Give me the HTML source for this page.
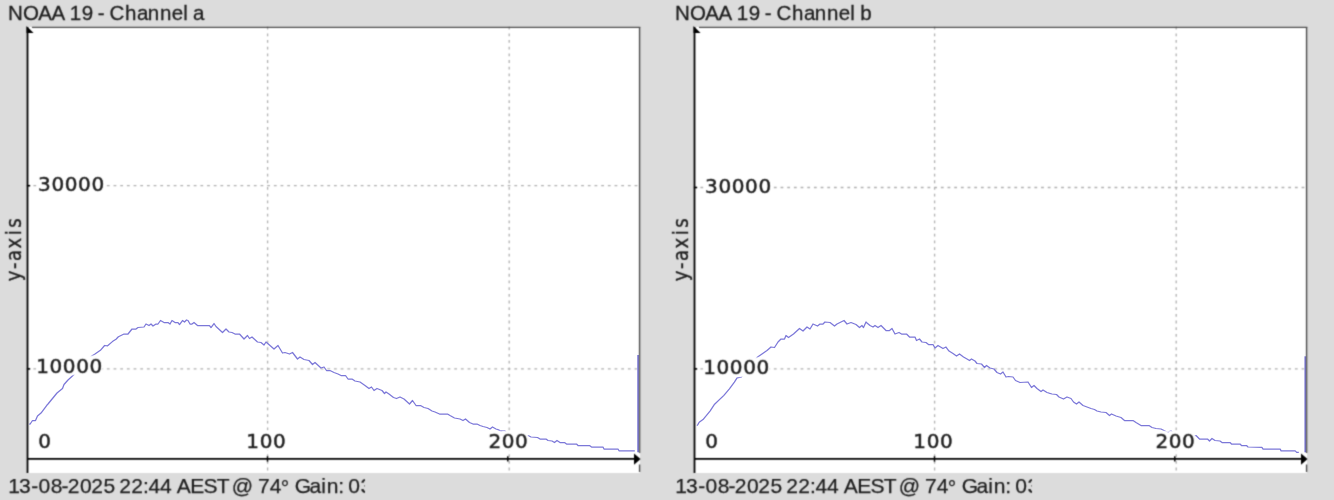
<!DOCTYPE html>
<html><head><meta charset="utf-8"><title>NOAA 19</title>
<style>
html,body{margin:0;padding:0;background:#dcdcdc;width:1334px;height:500px;overflow:hidden}
svg{display:block;will-change:transform}
.t{font-family:"Liberation Sans",Arial,sans-serif;font-size:20.5px;fill:#1e1e1e;stroke:#1e1e1e;stroke-width:0.3px}
.b{font-family:"Liberation Sans",Arial,sans-serif;font-size:21px;fill:#1e1e1e;stroke:#1e1e1e;stroke-width:0.25px}
.n text{font-family:"DejaVu Sans",sans-serif;font-size:20px;letter-spacing:0.61px;fill:#1e1e1e;stroke:#1e1e1e;stroke-width:0.5px}
.ya{font-family:"DejaVu Sans",sans-serif;font-size:20.5px;fill:#1e1e1e;stroke:#1e1e1e;stroke-width:0.35px}
</style></head>
<body>
<svg width="1334" height="500" viewBox="0 0 1334 500">
<defs><filter id="soft" x="0" y="0" width="1334" height="500" filterUnits="userSpaceOnUse" color-interpolation-filters="sRGB"><feConvolveMatrix order="3" kernelMatrix="1 3 1 3 12 3 1 3 1" divisor="28" edgeMode="duplicate"/></filter></defs>
<g filter="url(#soft)">
<rect width="1334" height="500" fill="#dcdcdc"/>
<g transform="translate(0,0)">
<text x="8.02 22.93 38.16 51.56 65.23 69.82 81.64 93.04 97.69 104.52 109.56 124.98 136.93 147.64 159.94 171.63 183.22 187.77 193.03" y="19.6" class="t">NOAA 19 - Channel a</text>
<rect x="27" y="27" width="613" height="446" fill="#fff"/>
<g stroke="#b0b0b0" stroke-width="1.3" stroke-dasharray="2.8 3.88" fill="none">
<line x1="26.7" y1="185.7" x2="639" y2="185.7"/>
<line x1="26.7" y1="368.9" x2="639" y2="368.9"/>
<line x1="267.6" y1="26.7" x2="267.6" y2="472"/>
<line x1="509.2" y1="26.7" x2="509.2" y2="472"/>
</g>
<text class="ya" transform="translate(21.4,280.8) rotate(-90) scale(0.88,1)"><tspan x="-0.61">y</tspan><tspan x="13.54">-</tspan><tspan x="22.41">a</tspan><tspan x="36.68">x</tspan><tspan x="51.82">i</tspan><tspan x="60.25">s</tspan></text>
<svg x="0" y="472" width="364.9" height="28" overflow="hidden"><text x="8.35 19.05 31.27 38.58 50.69 61.57 67.74 80.08 91.34 103.46 115.14 119.14 131.24 142.98 148.52 159.92 171.6 176.66 190.28 203.45 216.73 229.56 231.85 253.17 257.92 269.72 280.75 289.15 294.64 309.61 321.3 326.71 338.18 344.02 348.28 360.6" y="21 21 21 21 21 21 21 21 21 21 21 21 21 21 21 21 21 21 21 21 21 21 21 21 21 21 22.6 21 21 21 21 21 21 21 21 21" class="b">13-08-2025 22:44 AEST @ 74° Gain: 03</text></svg>
</g>
<g transform="translate(667,0)">
<text x="8.02 22.93 38.16 51.56 65.23 69.82 81.64 93.04 97.69 104.52 109.56 124.98 136.93 147.64 159.94 171.63 183.22 187.77 193.18" y="19.6" class="t">NOAA 19 - Channel b</text>
<rect x="27" y="27" width="613" height="446" fill="#fff"/>
<g stroke="#b0b0b0" stroke-width="1.3" stroke-dasharray="2.8 3.88" fill="none">
<line x1="26.7" y1="187.5" x2="639" y2="187.5"/>
<line x1="26.7" y1="368.9" x2="639" y2="368.9"/>
<line x1="267.6" y1="26.7" x2="267.6" y2="472"/>
<line x1="509.2" y1="26.7" x2="509.2" y2="472"/>
</g>
<text class="ya" transform="translate(21.4,280.8) rotate(-90) scale(0.88,1)"><tspan x="-0.61">y</tspan><tspan x="13.54">-</tspan><tspan x="22.41">a</tspan><tspan x="36.68">x</tspan><tspan x="51.82">i</tspan><tspan x="60.25">s</tspan></text>
<svg x="0" y="472" width="364.9" height="28" overflow="hidden"><text x="8.35 19.05 31.27 38.58 50.69 61.57 67.74 80.08 91.34 103.46 115.14 119.14 131.24 142.98 148.52 159.92 171.6 176.66 190.28 203.45 216.73 229.56 231.85 253.17 257.92 269.72 280.75 289.15 294.64 309.61 321.3 326.71 338.18 344.02 348.28 360.6" y="21 21 21 21 21 21 21 21 21 21 21 21 21 21 21 21 21 21 21 21 21 21 21 21 21 21 22.6 21 21 21 21 21 21 21 21 21" class="b">13-08-2025 22:44 AEST @ 74° Gain: 03</text></svg>
</g>
</g>
<g transform="translate(0,0)" fill="none" stroke="#7b77d8">
<polyline points="29.5,424.5 30.5,423.5 32.5,420.5 35.5,420.5 37.5,416.0 41.0,413.0 47.0,405.0 48.0,404.0 57.0,393.0 62.5,388.5 64.0,384.5 68.0,380.0 73.5,375.0 80.0,369.0 86.0,361.0 91.7,356.0 95.0,354.0 100.4,350.3 104.6,345.5 107.6,345.8 112.4,341.6 116.0,339.2 118.4,336.8 121.0,335.5 124.0,334.0 128.0,334.0 132.0,329.0 136.0,329.0 138.0,327.5 144.0,327.0 146.0,324.0 149.0,325.5 151.0,324.0 153.0,326.0 156.0,324.0 158.0,324.0 160.5,320.5 164.0,322.5 168.0,322.5 170.0,324.0 172.0,320.5 175.0,322.5 178.0,322.5 179.5,324.5 182.5,320.5 184.5,322.0 186.5,320.0 188.0,320.5 190.0,324.0 192.0,324.0 194.0,322.5 197.5,325.5 200.0,325.5 209.5,325.5 211.0,327.5 214.0,323.5 216.0,326.5 222.5,332.5 226.0,329.0 229.0,332.0 232.0,332.5 235.0,334.0 239.5,334.0 244.0,339.0 247.5,335.5 249.5,338.5 252.0,337.0 257.5,342.0 261.0,342.5 264.0,345.0 266.0,342.0 270.0,345.5 274.0,349.0 278.0,345.5 282.5,353.0 285.0,352.5 289.5,354.0 292.5,352.5 297.5,359.0 300.0,357.0 304.0,359.5 309.0,360.5 312.5,364.5 315.0,362.5 321.0,368.0 324.0,367.0 326.5,370.5 330.0,370.5 334.0,372.5 338.0,374.0 341.0,375.5 345.5,375.5 348.0,379.0 352.0,379.0 355.0,381.0 360.0,382.0 365.0,385.5 369.0,388.5 371.5,387.0 374.0,390.5 377.0,388.5 382.0,390.5 384.5,393.5 386.0,392.0 389.0,394.0 393.5,397.5 396.5,398.5 400.0,397.0 404.0,399.0 409.5,404.0 412.5,400.5 416.0,405.5 420.5,405.5 424.0,407.5 428.0,408.5 432.0,411.0 435.0,412.0 439.5,414.0 447.5,414.0 450.0,415.5 454.5,418.0 460.0,419.0 463.0,420.5 465.5,419.0 469.5,422.5 473.0,424.0 477.0,424.0 480.0,425.5 483.0,426.5 487.0,427.5 490.0,429.0 492.5,427.0 496.0,429.0 498.6,429.9 500.0,430.8 504.9,430.8 507.0,433.5 510.0,437.0 524.0,437.0 527.0,435.6 528.6,435.7 531.0,437.0 537.5,437.5 540.0,439.0 546.0,439.0 548.0,440.5 552.0,441.0 554.5,442.5 557.0,440.5 560.0,442.5 564.5,442.5 566.5,444.0 576.5,444.0 578.0,445.5 589.5,445.5 591.5,447.0 603.0,447.0 604.0,449.0 618.0,449.0 619.0,450.8 634.8,450.8" stroke-width="1.25" stroke-linejoin="round"/>
<line x1="638.1" y1="355" x2="638.1" y2="452.3" stroke-width="1.7"/>
</g>
<g transform="translate(667,0)" fill="none" stroke="#7b77d8">
<polyline points="30.0,425.6 30.8,424.6 32.2,422.3 36.0,419.6 43.2,410.8 47.6,404.2 56.9,395.4 62.4,388.8 67.4,382.2 70.1,377.8 74.0,377.2 79.0,372.0 85.0,363.0 90.6,357.0 95.0,354.0 100.0,350.5 104.0,347.0 107.5,347.5 111.0,342.0 114.0,339.0 117.5,339.0 119.0,335.5 121.5,337.5 126.5,334.0 132.5,328.5 136.0,331.0 140.0,327.0 143.0,329.0 146.0,324.0 150.5,326.0 153.0,324.0 156.0,324.0 158.0,322.0 163.0,322.5 167.5,326.0 170.0,324.0 174.0,322.0 177.0,320.5 180.0,324.0 184.0,322.5 189.0,324.5 192.5,327.5 195.0,325.5 196.5,327.5 199.0,322.0 200.0,323.0 203.0,325.5 206.0,327.0 208.0,325.5 211.0,327.5 214.0,325.5 219.0,330.5 222.5,330.5 225.0,328.5 228.0,334.0 232.0,332.5 234.5,334.0 239.5,334.0 242.5,337.0 248.0,337.0 249.5,340.5 252.5,339.0 255.0,342.0 259.0,342.5 261.5,344.5 266.0,344.5 268.0,348.0 271.0,345.5 276.0,348.5 279.0,347.0 282.0,351.0 286.0,353.5 289.5,356.0 292.5,354.0 296.5,357.0 300.0,359.0 302.5,360.5 304.5,359.0 308.0,361.0 310.0,363.5 314.5,364.0 317.5,367.5 319.5,365.5 323.0,368.0 327.0,369.0 330.0,372.5 333.5,374.0 336.0,372.0 339.0,377.0 341.5,376.5 346.0,377.0 348.5,380.5 353.0,382.5 361.0,382.0 364.5,387.5 367.0,385.5 370.0,388.5 374.0,391.5 376.0,390.0 380.0,392.5 385.0,394.0 389.5,394.5 392.0,397.0 396.5,399.0 400.0,397.0 404.0,398.5 406.5,402.0 409.5,404.0 412.0,402.0 416.0,405.5 420.0,407.0 424.0,408.5 427.5,409.5 430.0,411.0 434.0,412.0 439.0,412.5 442.5,415.5 444.5,414.0 449.0,416.0 454.0,417.5 457.5,420.5 466.0,420.5 469.0,422.5 474.0,425.5 482.0,425.5 485.0,427.5 489.0,428.5 494.0,429.0 497.0,430.5 501.0,432.5 503.0,431.2 504.5,431.2 507.0,435.0 523.0,437.0 527.5,435.5 529.0,435.5 532.5,439.0 540.5,439.0 542.5,441.0 545.0,438.5 548.0,440.5 553.0,441.0 555.0,442.5 563.0,442.5 564.5,444.0 573.0,444.0 574.5,445.5 579.5,445.5 581.0,447.0 594.9,447.3 596.1,449.1 613.2,449.1 614.1,450.9 628.2,450.9 629.7,452.4 631.8,452.4" stroke-width="1.25" stroke-linejoin="round"/>
<line x1="638.3" y1="356.3" x2="638.3" y2="452.3" stroke-width="1.7"/>
</g>
<g filter="url(#soft)">
<g transform="translate(0,0)">
<g fill="#fff">
<rect x="37.95" y="173.96" width="66.51" height="19.63"/>
<rect x="36.75" y="355.56" width="65.84" height="19.63"/>
<rect x="37.95" y="430.86" width="13.38" height="19.63"/>
<rect x="246.85" y="430.86" width="39.17" height="19.63"/>
<rect x="488.25" y="430.86" width="12.56" height="19.34"/>
<rect x="501.44" y="430.86" width="26.71" height="19.63"/>
</g>
<g class="n">
<text x="38.08" y="191.00">30000</text>
<text x="36.2" y="372.60">10000</text>
<text x="38.28" y="447.9">0</text>
<text x="246.3" y="447.9">100</text>
<text x="488.44" y="447.9">200</text>
</g>
<g stroke="#000" stroke-width="1.8" fill="none">
<line x1="27.5" y1="27" x2="27.5" y2="473"/>
<line x1="27" y1="458.9" x2="635" y2="458.9"/>
</g>
<g stroke="#000" stroke-width="1.5">
<line x1="27" y1="185.7" x2="30.2" y2="185.7"/>
<line x1="27" y1="368.9" x2="30.2" y2="368.9"/>
<line x1="267.5" y1="456.3" x2="267.5" y2="461.6"/>
<line x1="507.8" y1="456.3" x2="507.8" y2="461.6"/>
</g>
<polygon points="26.5,26 33.6,33 26.5,33" fill="#000"/>
<polygon points="634,453.4 640.6,459 634,464.8" fill="#000"/>
<g stroke="#484848" stroke-width="1.4">
<line x1="32" y1="27.4" x2="640.3" y2="27.4"/>
<line x1="639.6" y1="27.2" x2="639.6" y2="453"/>
<line x1="639.6" y1="464.5" x2="639.6" y2="472"/>
</g>
</g>
<g transform="translate(667,0)">
<g fill="#fff">
<rect x="37.95" y="175.76" width="66.51" height="19.63"/>
<rect x="36.75" y="357.36" width="65.84" height="19.63"/>
<rect x="37.95" y="430.86" width="13.38" height="19.63"/>
<rect x="246.85" y="430.86" width="39.17" height="19.63"/>
<rect x="488.25" y="430.86" width="12.56" height="19.34"/>
<rect x="501.44" y="430.86" width="26.71" height="19.63"/>
</g>
<g class="n">
<text x="38.08" y="192.80">30000</text>
<text x="36.2" y="374.40">10000</text>
<text x="38.28" y="447.9">0</text>
<text x="246.3" y="447.9">100</text>
<text x="488.44" y="447.9">200</text>
</g>
<g stroke="#000" stroke-width="1.8" fill="none">
<line x1="27.5" y1="27" x2="27.5" y2="473"/>
<line x1="27" y1="458.9" x2="635" y2="458.9"/>
</g>
<g stroke="#000" stroke-width="1.5">
<line x1="27" y1="187.5" x2="30.2" y2="187.5"/>
<line x1="27" y1="368.9" x2="30.2" y2="368.9"/>
<line x1="267.5" y1="456.3" x2="267.5" y2="461.6"/>
<line x1="507.8" y1="456.3" x2="507.8" y2="461.6"/>
</g>
<polygon points="26.5,26 33.6,33 26.5,33" fill="#000"/>
<polygon points="634,453.4 640.6,459 634,464.8" fill="#000"/>
<g stroke="#484848" stroke-width="1.4">
<line x1="32" y1="27.4" x2="640.3" y2="27.4"/>
<line x1="639.6" y1="27.2" x2="639.6" y2="453"/>
<line x1="639.6" y1="464.5" x2="639.6" y2="472"/>
</g>
</g>
</g>
</svg>
</body></html>
